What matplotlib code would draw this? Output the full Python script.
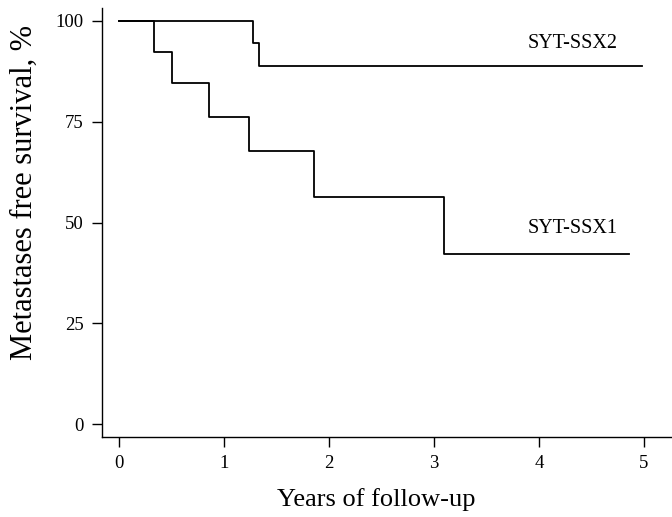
import matplotlib
matplotlib.use("Agg")
import matplotlib.pyplot as plt

plt.rcParams["font.family"] = ["Liberation Serif", "DejaVu Serif"]

# Kaplan-Meier steps (years, % metastasis free)
ssx2_years = [0, 1.28, 1.33, 4.98]
ssx2_surv = [100, 94.4, 88.9, 88.9]

ssx1_years = [0, 0.33, 0.50, 0.86, 1.24, 1.86, 3.10, 4.86]
ssx1_surv = [100, 92.3, 84.6, 76.2, 67.7, 56.4, 42.3, 42.3]

x_ticks = [0, 1, 2, 3, 4, 5]
y_ticks = [0, 25, 50, 75, 100]

fig = plt.figure(figsize=(6.72, 5.17), dpi=100)
ax = fig.add_axes([0.1518, 0.1547, 0.8482, 0.8298])

ax.step(ssx2_years, ssx2_surv, where="post", color="black", lw=1.3)
ax.step(ssx1_years, ssx1_surv, where="post", color="black", lw=1.3)

ax.text(3.89, 94.5, "SYT-SSX2", ha="left", va="center", fontsize=14.5)
ax.text(3.89, 48.4, "SYT-SSX1", ha="left", va="center", fontsize=14.5)

ax.set_xlim(-0.162, 5.267)
ax.set_ylim(-3.2, 103.2)
ax.set_xticks(x_ticks)
ax.set_yticks(y_ticks)
ax.tick_params(direction="out", length=7, width=1, labelsize=13.5, pad=6)

for side in ["top", "right"]:
    ax.spines[side].set_visible(False)
for side in ["left", "bottom"]:
    ax.spines[side].set_linewidth(1)

ax.set_xlabel("Years of follow-up", fontsize=19)
ax.set_ylabel("Metastases free survival, %", fontsize=22)
ax.xaxis.set_label_coords(0.481, -0.12)
ax.yaxis.set_label_coords(-0.11, 0.571)

fig.savefig("out.png", dpi=100)
